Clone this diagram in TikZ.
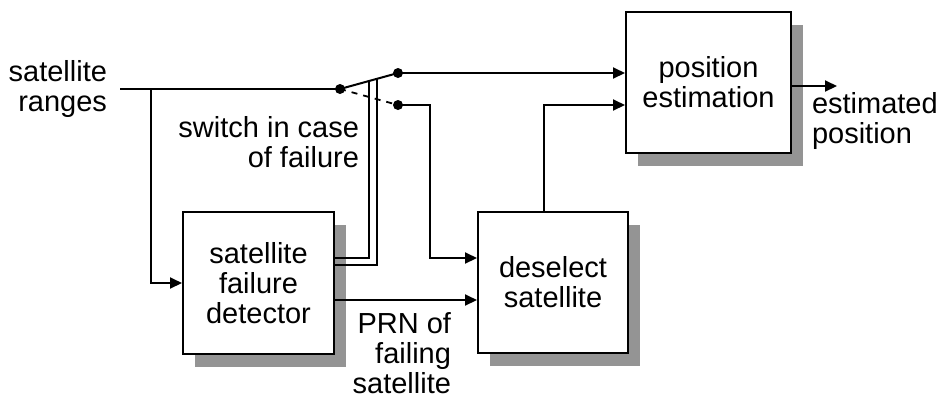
\documentclass[tikz,border=0pt]{standalone}
\usepackage{fontspec}
\setmainfont{Liberation Sans}
\usetikzlibrary{arrows.meta,shadows,calc}
\tikzset{
  block/.style={draw,line width=1pt,fill=white,minimum width=75pt,minimum height=70.5pt,
    align=center,inner sep=0pt,
    drop shadow={shadow xshift=6pt,shadow yshift=-6.5pt,fill=black!42,opacity=1}},
  lbl/.style={inner sep=0pt},
  arr/.style={-{Triangle[length=6pt,width=5.5pt]}},
  dot/.style={circle,fill,inner sep=0pt,minimum size=5pt}
}
\begin{document}
\begin{tikzpicture}[x=0.5pt,y=-0.5pt,line width=1pt,font=\fontsize{14.5}{15}\selectfont]
  \useasboundingbox (0,0) rectangle (947,403);
  \node[block,minimum width=82.5pt] (est) at (708.5,82.5) {position\\estimation};
  \node[block] (desel) at (553,282.5) {deselect\\satellite};
  \node[block,minimum width=75.5pt,minimum height=71pt] (det) at (258.5,283) {satellite\\failure\\detector};
  \node[lbl,anchor=east,align=right] (ranges) at (108,89) {satellite\\ranges};
  \node[lbl,anchor=east,align=right] (swlbl) at (360,142) {switch in case\\of failure};
  \node[lbl,anchor=east,align=right] (prn) at (452,353) {PRN of\\failing\\satellite};
  \node[lbl,anchor=west,align=left] (estpos) at (811,121) {estimated\\position};
  \node[dot] (pivot) at (340,89) {};
  \node[dot] (up) at (398,73) {};
  \node[dot] (down) at (398,105) {};
  \coordinate (in) at (120,89);
  \coordinate (br) at (151,89);
  \coordinate (k1) at (430,258);
  \coordinate (k2) at (544,105);
  \coordinate (k3) at (400,300);
  \coordinate (k4) at (369,258);
  \coordinate (k5) at (377,265);
  \coordinate (out) at (837,86);
  \draw (in) -- (pivot.center);
  \draw[arr] (br) |- (det.west);
  \draw (pivot.center) -- (up.center);
  \draw[dash pattern=on 3pt off 3pt,line width=0.9pt] (pivot.center) -- (down.center);
  \draw[arr] (up.center) -- (up -| est.west);
  \draw[arr] (down.center) -| (k1) -- (k1 -| desel.west);
  \draw[arr] (k2 |- desel.north) |- (k2 -| est.west);
  \draw[arr] (out -| est.east) -- (out);
  \draw[arr] (k3 -| det.east) -- (k3 -| desel.west);
  \draw (k4 -| det.east) -| ($(pivot)!.5!(up)$);
  \draw (k5 -| det.east) -| ($(pivot)!.64!(up)$);
\end{tikzpicture}
\end{document}
